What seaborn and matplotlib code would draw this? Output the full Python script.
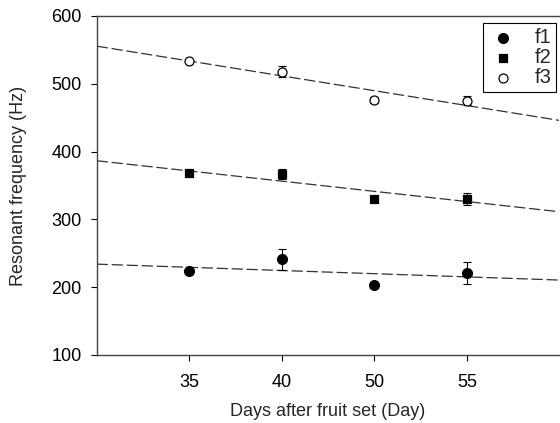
import numpy as np
import pandas as pd
import matplotlib
matplotlib.use("Agg")
import matplotlib.pyplot as plt
import seaborn as sns

days = ["35", "40", "50", "55"]
pos = [1, 2, 3, 4]
f1 = [224, 241, 203, 221]
f1_err = [3, 16, 2, 16]
f2 = [368, 367, 330.5, 330]
f2_err = [4, 8, 3, 9]
f3 = [534, 518, 476, 475]
f3_err = [3, 8, 5, 7]
series = ["f1", "f2", "f3"]

sns.set_theme(style="ticks")
plt.rcParams["font.family"] = ["Liberation Sans", "DejaVu Sans"]

fig = plt.figure(figsize=(5.6, 4.23), dpi=100)
ax = fig.add_axes([0.1727, 0.1608, 0.8263, 0.8014])
ax.set_xlim(0, 5)
ax.set_ylim(100, 600)

styles = {
    "f1": dict(marker="o", s=50, color="black", edgecolor="black"),
    "f2": dict(marker="s", s=38, color="black", edgecolor="black"),
    "f3": dict(marker="o", s=42, color="white", edgecolor="black"),
}
data = {"f1": (f1, f1_err), "f2": (f2, f2_err), "f3": (f3, f3_err)}

for name in series:
    vals, errs = data[name]
    df = pd.DataFrame({"x": pos, "y": vals, "e": errs})
    sns.regplot(data=df, x="x", y="y", ax=ax, ci=None, truncate=False,
                scatter=False,
                line_kws=dict(color="#333333", lw=0.9, dashes=(9, 3)))
    ax.errorbar(df["x"], df["y"], yerr=df["e"], fmt="none", ecolor="black",
                elinewidth=0.8, capsize=3, capthick=0.8, zorder=3)
    st = styles[name]
    sns.scatterplot(data=df, x="x", y="y", ax=ax, marker=st["marker"], s=st["s"],
                    color=st["color"], edgecolor=st["edgecolor"], linewidth=0.9,
                    label=name, zorder=4)

ax.set_xlim(0, 5)
ax.set_ylim(100, 600)
ax.set_xticks(pos)
ax.set_xticklabels(days)
ax.set_yticks([100, 200, 300, 400, 500, 600])
ax.tick_params(axis="both", labelsize=13, direction="out", length=4, width=0.8,
               colors="black")
ax.tick_params(axis="x", pad=10)
ax.tick_params(axis="y", pad=7)
ax.set_xlabel("Days after fruit set (Day)", fontsize=13, labelpad=8)
ax.set_ylabel("Resonant frequency (Hz)", fontsize=13, labelpad=17)
for sp in ["left", "bottom", "top"]:
    ax.spines[sp].set_color("#444444")
    ax.spines[sp].set_linewidth(1.0)
ax.spines["right"].set_visible(False)

leg = ax.legend(loc="upper right", bbox_to_anchor=(0.993, 0.98), fontsize=14.5,
                frameon=True, fancybox=False, edgecolor="black", framealpha=1,
                handletextpad=0.8, borderpad=0.25, labelspacing=0.05, handlelength=1.5,
                borderaxespad=0)
leg.get_frame().set_linewidth(0.8)

fig.savefig("out.png", dpi=100)
